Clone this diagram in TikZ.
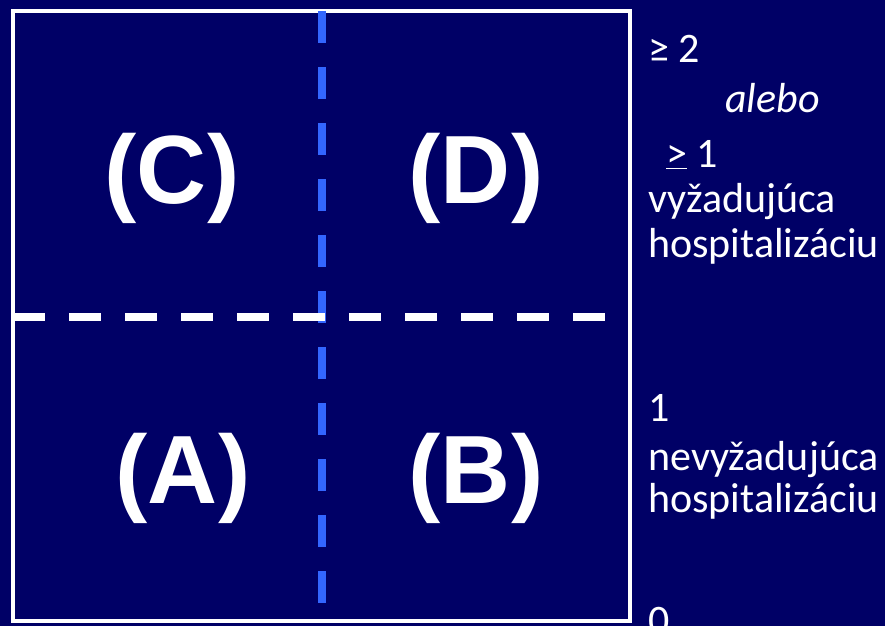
\documentclass[tikz,border=0pt]{standalone}
\usepackage{fontspec}
\setmainfont{Carlito}
\newfontfamily\bigfont{Liberation Sans}
\definecolor{navy}{RGB}{0,0,102}
\definecolor{dashblue}{RGB}{51,102,255}
\tikzset{
  frame/.style={draw=white, line width=4pt},
  hdash/.style={draw=white, line width=8pt, dash pattern=on 32pt off 24pt},
  vdash/.style={draw=dashblue, line width=8pt, dash pattern=on 32pt off 24pt},
  quad/.style={text=white, inner sep=0pt, font=\bigfont\bfseries\fontsize{97}{100}\selectfont},
  side/.style={text=white, inner sep=0pt, anchor=base west, font=\fontsize{42}{46}\selectfont}
}
\begin{document}
\begin{tikzpicture}[x=1pt, y=-1pt]
  \fill[navy] (0,0) rectangle (885,626);
  \useasboundingbox (0,0) rectangle (885,626);

  % grid frame and dividers
  \draw[frame] (13,11) rectangle (629.5,621);
  \coordinate (hl) at (13,316.5);
  \coordinate (hr) at (605,316.5);
  \coordinate (vt) at (321.5,11);
  \coordinate (vb) at (321.5,603);
  \draw[vdash] (vt) -- (vb);
  \draw[hdash] (hl) -- (hr);

  % quadrant labels
  \node[quad] (qC) at (172,178) {(C)};
  \node[quad] (qD) at (476,178) {(D)};
  \node[quad] (qA) at (183,478) {(A)};
  \node[quad] (qB) at (476,478) {(B)};

  % scale on the right
  \node[side] (t1) at (648,63)  {≥ 2};
  \node[side] (t2) at (725,112) {\itshape alebo};
  \node[side] (t3) at (666,167) {\underline{>} 1};
  \node[side] (t4) at (648,212) {vyžadujúca};
  \node[side] (t5) at (648,257) {hospitalizáciu};
  \node[side] (t6) at (648,421) {1};
  \node[side] (t7) at (648,470) {nevyžadujúca};
  \node[side] (t8) at (648,512) {hospitalizáciu};
  \node[side] (t9) at (648,634) {0};
\end{tikzpicture}
\end{document}
